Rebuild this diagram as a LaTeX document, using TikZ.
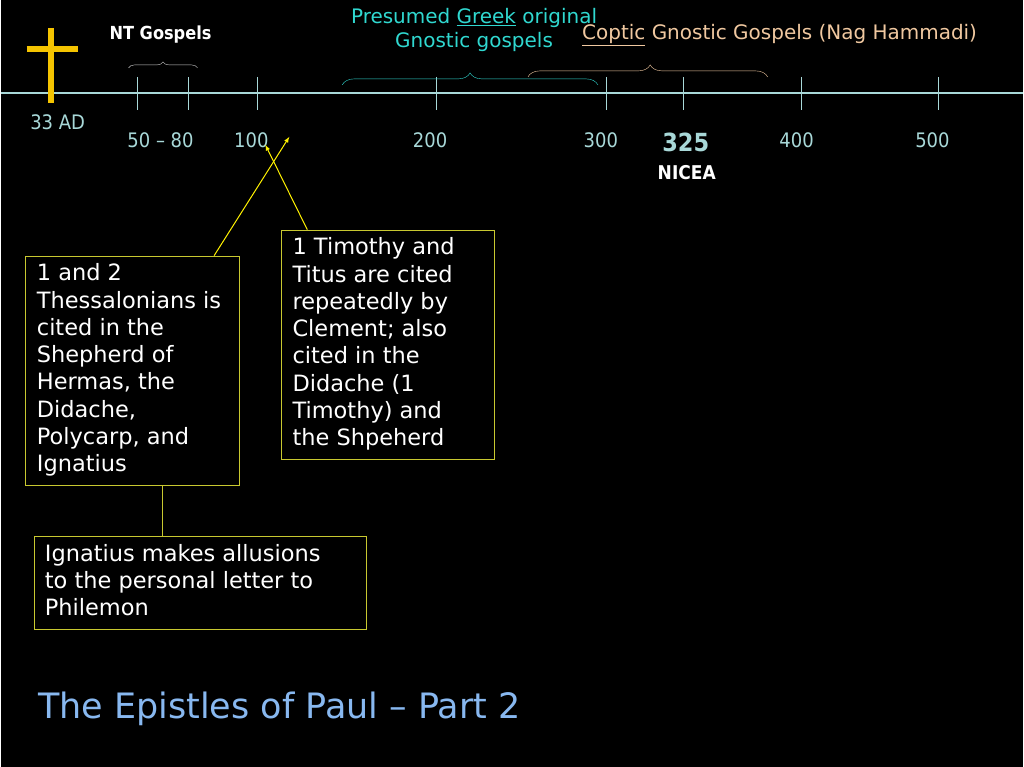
\documentclass[tikz,border=0pt]{standalone}
\usepackage{fontspec}
\setmainfont{DejaVu Sans}
\newfontfamily\condfont{DejaVu Sans Condensed}
\usetikzlibrary{decorations.pathreplacing}
\definecolor{axiscol}{HTML}{A8D8D8}
\definecolor{crossgold}{HTML}{F5C400}
\definecolor{greekcol}{HTML}{30D8D0}
\definecolor{copticcol}{HTML}{F0C8A0}
\definecolor{boxcol}{HTML}{C8C830}
\definecolor{titlecol}{HTML}{88B8F0}
\tikzset{
  notebox/.style={draw=boxcol, anchor=north west, inner sep=0pt},
  notetext/.style={text=white, anchor=north west, align=left, inner sep=0pt, font=\fontsize{22.5}{27.3}\selectfont},
  yearlabel/.style={text=axiscol, font=\condfont\fontsize{20}{22}\selectfont},
  pointer/.style={yellow, line width=1pt, -latex}
}
\begin{document}
\begin{tikzpicture}[x=1pt,y=-1pt]
  \fill[black] (0,0) rectangle (1024,768);
  % timeline
  \draw[axiscol, line width=1.5pt] (0,93) -- (1024,93);
  \foreach \t in {137,188,257,436,606,683,802,939}
    \draw[axiscol] (\t,77) -- (\t,110);
  % cross
  \draw[crossgold, line width=6pt] (50,28) -- (50,103);
  \draw[crossgold, line width=6pt] (26,49) -- (77,49);
  % year labels
  \node[yearlabel] (ad) at (57,122) {33 AD};
  \node[yearlabel] (y50) at (160,140) {50 – 80};
  \node[yearlabel] (y100) at (251,140) {100};
  \node[yearlabel] (y200) at (430,140) {200};
  \node[yearlabel] (y300) at (601,140) {300};
  \node[text=axiscol, font=\condfont\bfseries\fontsize{25}{26}\selectfont] (y325) at (686,143) {325};
  \node[text=white, font=\condfont\bfseries\fontsize{19}{20}\selectfont] (nicea) at (687,173) {NICEA};
  \node[yearlabel] (y400) at (797,140) {400};
  \node[yearlabel] (y500) at (933,140) {500};
  % braces
  \node[text=white, font=\condfont\bfseries\fontsize{18}{20}\selectfont] (ntg) at (160,35) {NT Gospels};
  \draw[white!80!black, decorate, decoration={brace, amplitude=6pt}] (128,68) -- (197,68);
  \node[text=greekcol, align=center, font=\fontsize{20}{24}\selectfont] (greek) at (474,30) {Presumed \underline{Greek} original\\Gnostic gospels};
  \draw[greekcol, decorate, decoration={brace, amplitude=12pt}] (342,85) -- (598,85);
  \node[text=copticcol, font=\fontsize{20}{22}\selectfont] (coptic) at (780,35) {\underline{Coptic} Gnostic Gospels (Nag Hammadi)};
  \draw[copticcol, decorate, decoration={brace, amplitude=12pt, aspect=0.51}] (528,77) -- (768,77);
  % boxes
  \node[notebox, minimum width=215pt, minimum height=230pt] (thess) at (24,256) {};
  \node[notetext] (thesstext) at (36,264)
    {1 and 2\\Thessalonians is\\cited in the\\Shepherd of\\Hermas, the\\Didache,\\Polycarp, and\\Ignatius};
  \node[notebox, minimum width=213pt, minimum height=230pt] (tim) at (281,230) {};
  \node[notetext] (timtext) at (292,238)
    {1 Timothy and\\Titus are cited\\repeatedly by\\Clement; also\\cited in the\\Didache (1\\Timothy) and\\the Shpeherd};
  \node[notebox, minimum width=333pt, minimum height=93pt] (phil) at (33,537) {};
  \node[notetext] (philtext) at (44,545)
    {Ignatius makes allusions\\to the personal letter to\\Philemon};
  % connectors
  \coordinate (tip1) at (289,137);
  \coordinate (tip2) at (265,145);
  \draw[pointer] ([xshift=82pt]thess.north) -- (tip1);
  \draw[pointer] ([xshift=26pt]tim.north west) -- (tip2);
  \draw[boxcol] ([xshift=30pt]thess.south) -- ([xshift=30pt]thess.south |- phil.north);
  % title
  \node[text=titlecol, anchor=west, font=\fontsize{35}{40}\selectfont] (title) at (34,710) {The Epistles of Paul – Part 2};
\end{tikzpicture}
\end{document}
